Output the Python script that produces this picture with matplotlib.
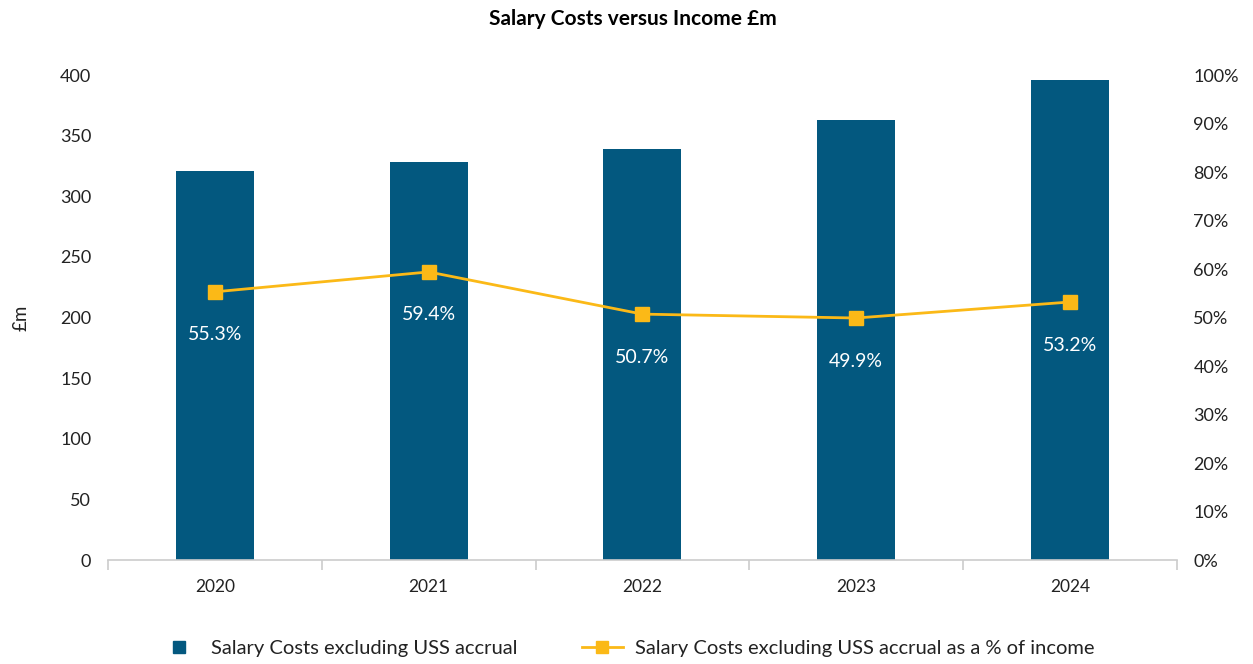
import numpy as np
import matplotlib.pyplot as plt
from matplotlib.ticker import MultipleLocator, FuncFormatter
from matplotlib.lines import Line2D

plt.rcParams['font.family'] = ['Lato', 'DejaVu Sans']

years = ['2020', '2021', '2022', '2023', '2024']
salary_costs = [321, 328, 339, 363, 396]
pct_of_income = [55.3, 59.4, 50.7, 49.9, 53.2]

bar_color = '#03587f'
line_color = '#fbb917'

fig = plt.figure(figsize=(12.53, 6.64), dpi=100)
ax = fig.add_axes([0.0862, 0.1566, 0.853, 0.7304])
ax2 = ax.twinx()

x = np.arange(len(years))
ax.bar(x, salary_costs, width=0.365, color=bar_color, zorder=2)

ax.set_xlim(-0.5, len(years) - 0.5)
ax.set_ylim(0, 400)
ax.yaxis.set_major_locator(MultipleLocator(50))
ax.set_xticks(x)
ax.set_xticklabels(years, fontsize=12.5, color='#222222')
ax.set_xticks(np.arange(-0.5, len(years)), minor=True)
ax.tick_params(axis='x', which='major', length=0, pad=14)
ax.tick_params(axis='x', which='minor', length=7, color='#cccccc', width=1.2)
ax.tick_params(axis='y', length=0, labelsize=13, pad=12, colors='#222222')
for s in ['top', 'right', 'left']:
    ax.spines[s].set_visible(False)
ax.spines['bottom'].set_color('#cccccc')
ax.spines['bottom'].set_linewidth(1.2)
ax.set_ylabel('£m', fontsize=13.5, labelpad=22, color='#222222')

ax2.plot(x, pct_of_income, color=line_color, linewidth=2, marker='s',
         markersize=10, zorder=3)
for xi, p in zip(x, pct_of_income):
    ax2.annotate(f'{p}%', (xi, p), xytext=(0, -31), textcoords='offset points',
                 ha='center', va='center', color='white', fontsize=14)
ax2.set_ylim(0, 100)
ax2.yaxis.set_major_locator(MultipleLocator(10))
ax2.yaxis.set_major_formatter(FuncFormatter(lambda v, _: f'{v:.0f}%'))
ax2.tick_params(axis='y', length=0, labelsize=13, pad=12, colors='#222222')
for s in ax2.spines.values():
    s.set_visible(False)

fig.text(0.505, 0.972, 'Salary Costs versus Income £m', ha='center', va='center',
         fontsize=15, fontweight='bold', color='black')

handles = [
    Line2D([], [], linestyle='none', marker='s', markersize=9, color=bar_color),
    Line2D([], [], color=line_color, linewidth=2, marker='s', markersize=9),
]
labels = ['Salary Costs excluding USS accrual',
          'Salary Costs excluding USS accrual as a % of income']
fig.legend(handles, labels, loc='center', bbox_to_anchor=(0.5, 0.024), ncol=2,
           frameon=False, fontsize=14.5, columnspacing=3.2, handlelength=2.0,
           handletextpad=0.6, labelcolor='#222222')

fig.savefig('out.png', dpi=100)
